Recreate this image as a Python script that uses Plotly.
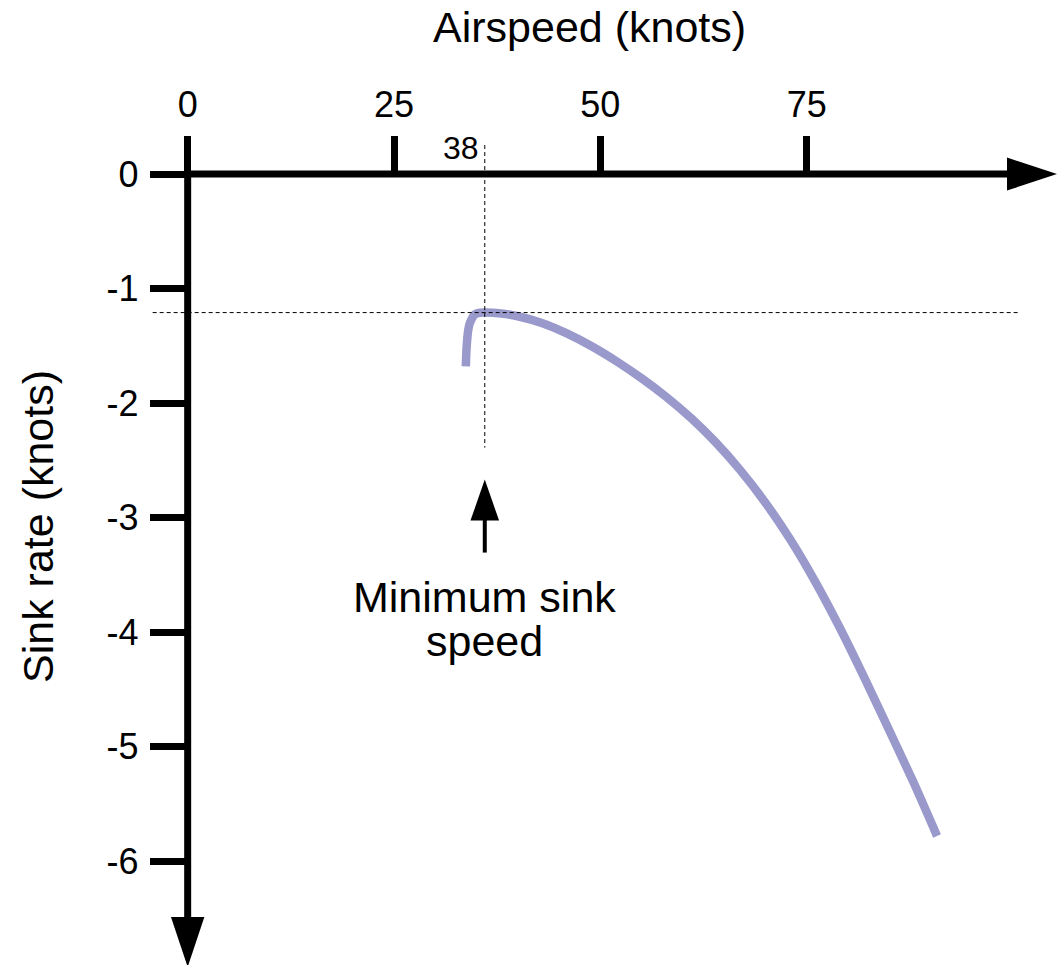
import plotly.graph_objects as go

# ---------------- data ----------------
airspeed = [33.7, 33.8, 34.0, 34.2, 34.8, 35.4, 36.0, 38, 40, 43, 46, 49, 52, 55, 58, 61, 64, 67, 70, 73, 76, 79, 82, 85, 88, 90.8]
sink_rate = [-1.68, -1.51, -1.36, -1.30, -1.225, -1.212, -1.21, -1.218, -1.242, -1.303, -1.394, -1.506, -1.637,
             -1.784, -1.947, -2.132, -2.345, -2.590, -2.870, -3.190, -3.555, -3.960, -4.400, -4.858, -5.321, -5.781]

x_ticks = [0, 25, 50, 75]
x_tick_labels = ["0", "25", "50", "75"]
y_ticks = [0, -1, -2, -3, -4, -5, -6]
y_tick_labels = ["0", "-1", "-2", "-3", "-4", "-5", "-6"]

min_sink_speed = 36          # position of the vertical marker
min_sink_speed_label = "38"  # text printed next to it
min_sink = -1.21

x_title = "Airspeed (knots)"
y_title = "Sink rate (knots)"
note_lines = ["Minimum sink", "speed"]

# ---------------- layout geometry ----------------
W, H = 1062, 965
X_RANGE = [-22.74, 105.94]
Y_RANGE = [-6.908, 1.520]
SX = W / (X_RANGE[1] - X_RANGE[0])   # pixels per knot (x)
SY = H / (Y_RANGE[1] - Y_RANGE[0])   # pixels per knot (y)

def kx(p):  # pixel length -> x units
    return p / SX

def ky(p):  # pixel length -> y units
    return p / SY

FONT = "Liberation Sans, Arial, Helvetica, sans-serif"
BLACK = "#000000"
CURVE = "#9999cc"
AX_W = 7

fig = go.Figure()
fig.add_trace(go.Scatter(
    x=airspeed, y=sink_rate, mode="lines",
    line=dict(color=CURVE, width=8.5, shape="spline", smoothing=0.7),
    hoverinfo="skip", showlegend=False,
))

shapes = []
# axis lines
x_arrow_base = X_RANGE[1] - kx(55)
y_arrow_base = Y_RANGE[0] + ky(48)
shapes.append(dict(type="line", xref="x", yref="y", x0=0, y0=0, x1=x_arrow_base + kx(2), y1=0,
                   line=dict(color=BLACK, width=AX_W)))
shapes.append(dict(type="line", xref="x", yref="y", x0=0, y0=0, x1=0, y1=y_arrow_base - ky(2),
                   line=dict(color=BLACK, width=AX_W)))
# arrow heads
xt = x_arrow_base + kx(50)
shapes.append(dict(type="path", xref="x", yref="y",
                   path=f"M{x_arrow_base},{ky(16.5)} L{xt},0 L{x_arrow_base},{-ky(16.5)} Z",
                   fillcolor=BLACK, line=dict(width=0)))
yt = y_arrow_base - ky(50)
shapes.append(dict(type="path", xref="x", yref="y",
                   path=f"M{-kx(16.7)},{y_arrow_base} L0,{yt} L{kx(16.7)},{y_arrow_base} Z",
                   fillcolor=BLACK, line=dict(width=0)))
# dashed guides
shapes.append(dict(type="line", xref="x", yref="y", x0=-kx(35), x1=X_RANGE[1] - kx(42),
                   y0=min_sink, y1=min_sink, line=dict(color=BLACK, width=1, dash="4px,3px")))
shapes.append(dict(type="line", xref="x", yref="y", x0=min_sink_speed, x1=min_sink_speed,
                   y0=ky(29), y1=min_sink - ky(135), line=dict(color=BLACK, width=1, dash="4px,3px")))
# pointer arrow to min sink speed
tip_y = min_sink - ky(167)
head_base = tip_y - ky(41)
shapes.append(dict(type="path", xref="x", yref="y",
                   path=f"M{min_sink_speed - kx(14.3)},{head_base} L{min_sink_speed},{tip_y} L{min_sink_speed + kx(14.3)},{head_base} Z",
                   fillcolor=BLACK, line=dict(width=0)))
shapes.append(dict(type="line", xref="x", yref="y", x0=min_sink_speed, x1=min_sink_speed,
                   y0=head_base + ky(1), y1=head_base - ky(32), line=dict(color=BLACK, width=4)))

annotations = [
    dict(text=x_title, xref="paper", yref="paper", x=589 / W, y=1 - 27 / H,
         xanchor="center", yanchor="middle", showarrow=False,
         font=dict(family=FONT, size=43, color=BLACK)),
    dict(text=y_title, xref="paper", yref="paper", x=38 / W, y=1 - 527 / H,
         xanchor="center", yanchor="middle", textangle=-90, showarrow=False,
         font=dict(family=FONT, size=43, color=BLACK)),
    dict(text=min_sink_speed_label, xref="x", yref="y", x=min_sink_speed, y=ky(26),
         xanchor="right", yanchor="middle", xshift=-5, showarrow=False, borderpad=0,
         font=dict(family=FONT, size=32, color=BLACK)),
    dict(text=note_lines[0], xref="x", yref="y", x=min_sink_speed, y=-ky(596.5 - 174),
         xanchor="center", yanchor="middle", showarrow=False, borderpad=0,
         font=dict(family=FONT, size=43, color=BLACK)),
    dict(text=note_lines[1], xref="x", yref="y", x=min_sink_speed, y=-ky(640.5 - 174),
         xanchor="center", yanchor="middle", showarrow=False, borderpad=0,
         font=dict(family=FONT, size=43, color=BLACK)),
]

fig.update_layout(
    width=W, height=H,
    margin=dict(l=0, r=0, t=0, b=0, pad=0),
    paper_bgcolor="white", plot_bgcolor="white",
    shapes=shapes, annotations=annotations,
    showlegend=False,
    xaxis=dict(range=X_RANGE, anchor="free",
               position=(0 - Y_RANGE[0]) / (Y_RANGE[1] - Y_RANGE[0]),
               side="top", showgrid=False, zeroline=False, showline=False,
               tickmode="array", tickvals=x_ticks, ticktext=x_tick_labels,
               ticks="outside", ticklen=38, tickwidth=AX_W, tickcolor=BLACK,
               ticklabelstandoff=5,
               tickfont=dict(family=FONT, size=36, color=BLACK), fixedrange=True),
    yaxis=dict(range=Y_RANGE, anchor="free",
               position=(0 - X_RANGE[0]) / (X_RANGE[1] - X_RANGE[0]),
               side="left", showgrid=False, zeroline=False, showline=False,
               tickmode="array", tickvals=y_ticks, ticktext=y_tick_labels,
               ticks="outside", ticklen=38, tickwidth=AX_W, tickcolor=BLACK,
               ticklabelstandoff=4,
               tickfont=dict(family=FONT, size=36, color=BLACK), fixedrange=True),
)

fig.write_html("out.html", config={"displayModeBar": False},
               post_script="document.body.style.margin='0';document.body.style.overflow='hidden';")
